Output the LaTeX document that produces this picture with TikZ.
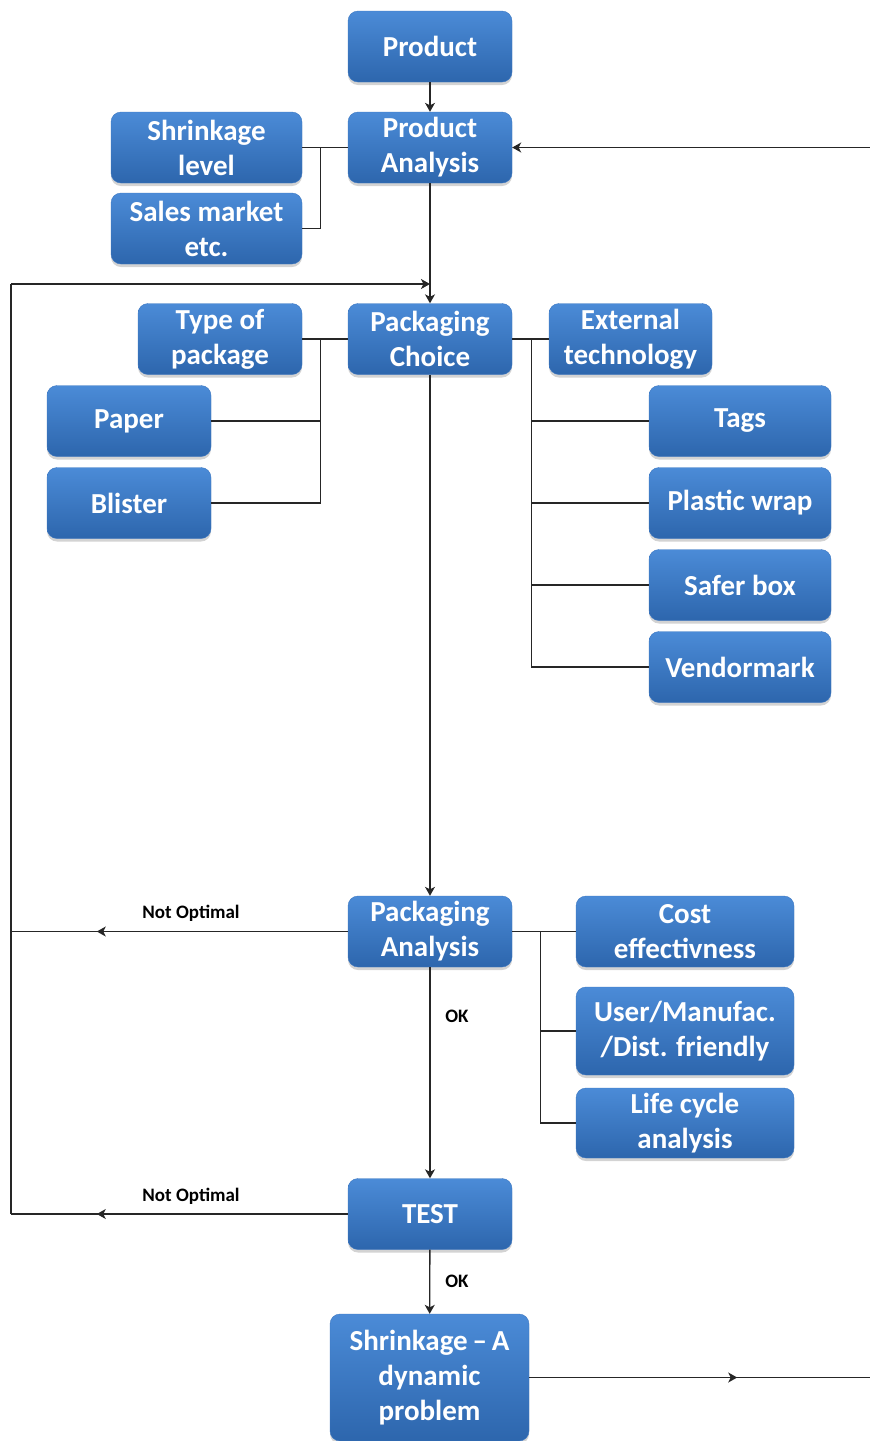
\documentclass[tikz,border=0pt]{standalone}
\usepackage{fontspec}
\setmainfont{Carlito}
\usetikzlibrary{arrows.meta,shadows,decorations.markings}
\definecolor{boxtop}{HTML}{4B8BD7}
\definecolor{boxbot}{HTML}{2D66AD}
\definecolor{boxedge}{HTML}{3D78C2}
\tikzset{
  blk/.style={rectangle, rounded corners=10pt, draw=boxedge, top color=boxtop, bottom color=boxbot,
    text=white, font=\bfseries\fontsize{29}{35}\selectfont, align=center, inner sep=2pt,
    minimum width=164pt, minimum height=71pt,
    drop shadow={shadow xshift=0pt, shadow yshift=-3pt, opacity=0.35}},
  lnk/.style={line width=1.3pt, black!85},
  tip/.style={-{Stealth[length=9pt,width=10pt,inset=2.5pt]}},
  midarr/.style={postaction={decorate, decoration={markings,
    mark=at position #1 with {\arrow{Stealth[length=9pt,width=10pt,inset=2.5pt]}}}}},
  lbl/.style={font=\bfseries\fontsize{19}{22}\selectfont, inner sep=0pt}
}
\begin{document}
\begin{tikzpicture}[x=1pt,y=-1pt]
\useasboundingbox (0,0) rectangle (870,1441);

\node[blk] (product) at (430,46.5) {Product};
\node[blk] (prodana) at (430,147.5) {Product\\Analysis};
\node[blk, minimum width=191pt] (shrink) at (206.5,147.5) {Shrinkage\\level};
\node[blk, minimum width=191pt] (sales) at (206.5,228.5) {Sales market\\etc.};
\node[blk] (typepkg) at (220,339) {Type of\\package};
\node[blk] (pkgchoice) at (430,339) {Packaging\\Choice};
\node[blk, minimum width=163pt] (exttech) at (630.5,339) {External\\technology};
\node[blk] (paper) at (129,421) {Paper};
\node[blk] (blister) at (129,503) {Blister};
\node[blk, minimum width=182pt] (tags) at (740,421) {Tags};
\node[blk, minimum width=182pt] (wrap) at (740,503) {Plastic wrap};
\node[blk, minimum width=182pt] (safer) at (740,585) {Safer box};
\node[blk, minimum width=182pt] (vendor) at (740,667) {Vendormark};
\node[blk] (pkgana) at (430,931.5) {Packaging\\Analysis};
\node[blk, minimum width=218pt] (cost) at (685,931.5) {Cost\\effectivness};
\node[blk, minimum width=218pt, minimum height=88pt] (friendly) at (685,1031) {User/Manufac.\\/Dist. friendly};
\node[blk, minimum width=218pt, minimum height=70pt] (lifecyc) at (685,1123) {Life cycle\\analysis};
\node[blk] (test) at (430,1214) {TEST};
\node[blk, minimum width=199pt, minimum height=127pt] (dynprob) at (429.5,1377.5) {Shrinkage\,--\,A\\dynamic\\problem};

\node[lbl] (notopt1) at (191,913) {Not Optimal};
\node[lbl] (notopt2) at (191,1196) {Not Optimal};
\node[lbl] (ok1) at (457,1016) {OK};
\node[lbl] (ok2) at (457,1281) {OK};

\coordinate (rin) at (870,147.5);
\coordinate (rout) at (870,1377.5);
\coordinate (ltop) at (11,284);
\coordinate (join) at (430,284);
\coordinate (lmid) at (11,931.5);
\coordinate (lbot) at (11,1214);

\draw[lnk,tip] (product) -- (prodana);
\draw[lnk,tip] (rin) -- (prodana.east);
\draw[lnk] (shrink.east) -- (prodana.west);
\draw[lnk] (sales.east) -| ([xshift=18pt]shrink.east);
\draw[lnk,tip] (prodana) -- (pkgchoice);
\draw[lnk,tip] (ltop) -- (join);
\draw[lnk] (ltop) -- (lbot);

\draw[lnk] (typepkg.east) -- (pkgchoice.west);
\draw[lnk] (paper.east) -| ([xshift=18pt]typepkg.east);
\draw[lnk] (blister.east) -| ([xshift=18pt]typepkg.east);
\draw[lnk] (pkgchoice.east) -- (exttech.west);
\foreach \n in {tags,wrap,safer,vendor}
  \draw[lnk] (\n.west) -| ([xshift=19pt]pkgchoice.east);

\draw[lnk,tip] (pkgchoice) -- (pkgana);
\draw[lnk] (pkgana.east) -- (cost.west);
\draw[lnk] (friendly.west) -| ([xshift=28pt]pkgana.east);
\draw[lnk] (lifecyc.west) -| ([xshift=28pt]pkgana.east);
\draw[lnk,midarr=251pt] (pkgana.west) -- (lmid);

\draw[lnk,tip] (pkgana) -- (test);
\draw[lnk,midarr=251pt] (test.west) -- (lbot);
\draw[lnk,tip] (test) -- (dynprob);
\draw[lnk,midarr=208pt] (dynprob.east) -- (rout);
\end{tikzpicture}
\end{document}
